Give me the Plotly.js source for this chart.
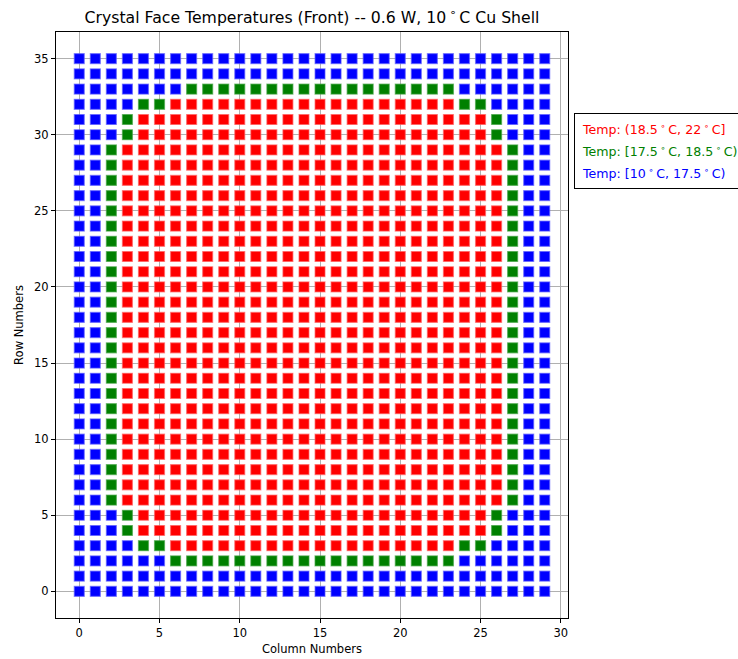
<!DOCTYPE html>
<html>
<head>
<meta charset="utf-8">
<script src="https://cdn.plot.ly/plotly-3.0.1.min.js"></script>
<style>
  html, body { margin: 0; padding: 0; background: #fff; }
  #chart { width: 738px; height: 659px; }
</style>
</head>
<body>
<div id="chart"></div>
<script>
// Grid of crystal temperature classes.
// One string per row, from row 35 (top) down to row 0; one character per column 0..29.
// R = (18.5°C, 22°C], G = [17.5°C, 18.5°C), B = [10°C, 17.5°C)
const rowNumbers = [35,34,33,32,31,30,29,28,27,26,25,24,23,22,21,20,19,18,17,16,15,14,13,12,11,10,9,8,7,6,5,4,3,2,1,0];
const rowClasses = [
  "BBBBBBBBBBBBBBBBBBBBBBBBBBBBBB", // 35
  "BBBBBBBBBBBBBBBBBBBBBBBBBBBBBB", // 34
  "BBBBBBBGGGGGGGGGGGGGGGGGBBBBBB", // 33
  "BBBBGGRRRRRRRRRRRRRRRRRRGGBBBB", // 32
  "BBBGRRRRRRRRRRRRRRRRRRRRRRGBBB", // 31
  "BBBGRRRRRRRRRRRRRRRRRRRRRRGBBB", // 30
  "BBGRRRRRRRRRRRRRRRRRRRRRRRRGBB", // 29
  "BBGRRRRRRRRRRRRRRRRRRRRRRRRGBB", // 28
  "BBGRRRRRRRRRRRRRRRRRRRRRRRRGBB", // 27
  "BBGRRRRRRRRRRRRRRRRRRRRRRRRGBB", // 26
  "BBGRRRRRRRRRRRRRRRRRRRRRRRRGBB", // 25
  "BBGRRRRRRRRRRRRRRRRRRRRRRRRGBB", // 24
  "BBGRRRRRRRRRRRRRRRRRRRRRRRRGBB", // 23
  "BBGRRRRRRRRRRRRRRRRRRRRRRRRGBB", // 22
  "BBGRRRRRRRRRRRRRRRRRRRRRRRRGBB", // 21
  "BBGRRRRRRRRRRRRRRRRRRRRRRRRGBB", // 20
  "BBGRRRRRRRRRRRRRRRRRRRRRRRRGBB", // 19
  "BBGRRRRRRRRRRRRRRRRRRRRRRRRGBB", // 18
  "BBGRRRRRRRRRRRRRRRRRRRRRRRRGBB", // 17
  "BBGRRRRRRRRRRRRRRRRRRRRRRRRGBB", // 16
  "BBGRRRRRRRRRRRRRRRRRRRRRRRRGBB", // 15
  "BBGRRRRRRRRRRRRRRRRRRRRRRRRGBB", // 14
  "BBGRRRRRRRRRRRRRRRRRRRRRRRRGBB", // 13
  "BBGRRRRRRRRRRRRRRRRRRRRRRRRGBB", // 12
  "BBGRRRRRRRRRRRRRRRRRRRRRRRRGBB", // 11
  "BBGRRRRRRRRRRRRRRRRRRRRRRRRGBB", // 10
  "BBGRRRRRRRRRRRRRRRRRRRRRRRRGBB", // 9
  "BBGRRRRRRRRRRRRRRRRRRRRRRRRGBB", // 8
  "BBGRRRRRRRRRRRRRRRRRRRRRRRRGBB", // 7
  "BBGRRRRRRRRRRRRRRRRRRRRRRRRGBB", // 6
  "BBBGRRRRRRRRRRRRRRRRRRRRRRGBBB", // 5
  "BBBGRRRRRRRRRRRRRRRRRRRRRRGBBB", // 4
  "BBBBGGRRRRRRRRRRRRRRRRRRGGBBBB", // 3
  "BBBBBBGGGGGGGGGGGGGGGGGGBBBBBB", // 2
  "BBBBBBBBBBBBBBBBBBBBBBBBBBBBBB", // 1
  "BBBBBBBBBBBBBBBBBBBBBBBBBBBBBB"  // 0
];

const DEG = "\u2009<sup>∘</sup>\u2009C";
const classCodes = ["R", "G", "B"];
const classNames = [
  "Temp: (18.5" + DEG + ", 22" + DEG + "]",
  "Temp: [17.5" + DEG + ", 18.5" + DEG + ")",
  "Temp: [10" + DEG + ", 17.5" + DEG + ")"
];
const classColors = ["#ff0000", "#008000", "#0000ff"];
const classEdges = ["rgba(255,90,90,0.6)", "rgba(60,160,60,0.6)", "rgba(90,90,255,0.6)"];

const xTicks = [0, 5, 10, 15, 20, 25, 30];
const yTicks = [0, 5, 10, 15, 20, 25, 30, 35];

const traces = classCodes.map((code, k) => {
  const xs = [], ys = [];
  rowClasses.forEach((row, r) => {
    for (let c = 0; c < row.length; c++) {
      if (row[c] === code) { xs.push(c); ys.push(rowNumbers[r]); }
    }
  });
  return {
    type: "scatter", mode: "markers", x: xs, y: ys,
    name: classNames[k], showlegend: false, hoverinfo: "x+y",
    marker: { symbol: "square", size: 10, color: classColors[k],
              line: { width: 1.2, color: classEdges[k] } }
  };
});

const legendText = classNames.map((n, k) =>
  '<span style="font-size:12.6px;color:' + classColors[k] + '">' + n + '</span>').join("<br>");

const font = "DejaVu Sans, sans-serif";
const layout = {
  width: 738, height: 659,
  margin: { l: 56, r: 170, t: 32, b: 41, pad: 0 },
  paper_bgcolor: "#ffffff", plot_bgcolor: "#ffffff",
  font: { family: font, size: 11.5, color: "#000" },
  title: { text: "Crystal Face Temperatures (Front) -- 0.6 W, 10" + DEG + " Cu Shell",
           font: { family: font, size: 15.7, color: "#000" },
           x: 0.4228, xanchor: "center", y: 0.974, yanchor: "middle" },
  xaxis: {
    range: [-1.45, 30.45], tickvals: xTicks, ticktext: xTicks.map(String),
    showgrid: true, gridcolor: "#b0b0b0", gridwidth: 1, zeroline: false,
    showline: true, linecolor: "#000", linewidth: 1, mirror: true,
    ticks: "outside", ticklen: 4, tickcolor: "#000", tickwidth: 1,
    tickfont: { family: font, size: 11.5, color: "#000" },
    title: { text: "Column Numbers", font: { family: font, size: 11.5, color: "#000" }, standoff: 6 }
  },
  yaxis: {
    range: [-1.75, 36.75], tickvals: yTicks, ticktext: yTicks.map(String),
    showgrid: true, gridcolor: "#b0b0b0", gridwidth: 1, zeroline: false,
    showline: true, linecolor: "#000", linewidth: 1, mirror: true,
    ticks: "outside", ticklen: 4, tickcolor: "#000", tickwidth: 1,
    tickfont: { family: font, size: 11.5, color: "#000" },
    title: { text: "Row Numbers", font: { family: font, size: 11.5, color: "#000" }, standoff: 8 }
  },
  annotations: [{
    xref: "paper", yref: "paper", x: 1.0117, y: 0.862, xanchor: "left", yanchor: "top",
    text: legendText, showarrow: false, align: "left",
    font: { family: font, size: 17 },
    bordercolor: "#000", borderwidth: 1, borderpad: 7, bgcolor: "#fff"
  }]
};

Plotly.newPlot("chart", traces, layout, { displayModeBar: false, staticPlot: true });
</script>
</body>
</html>
